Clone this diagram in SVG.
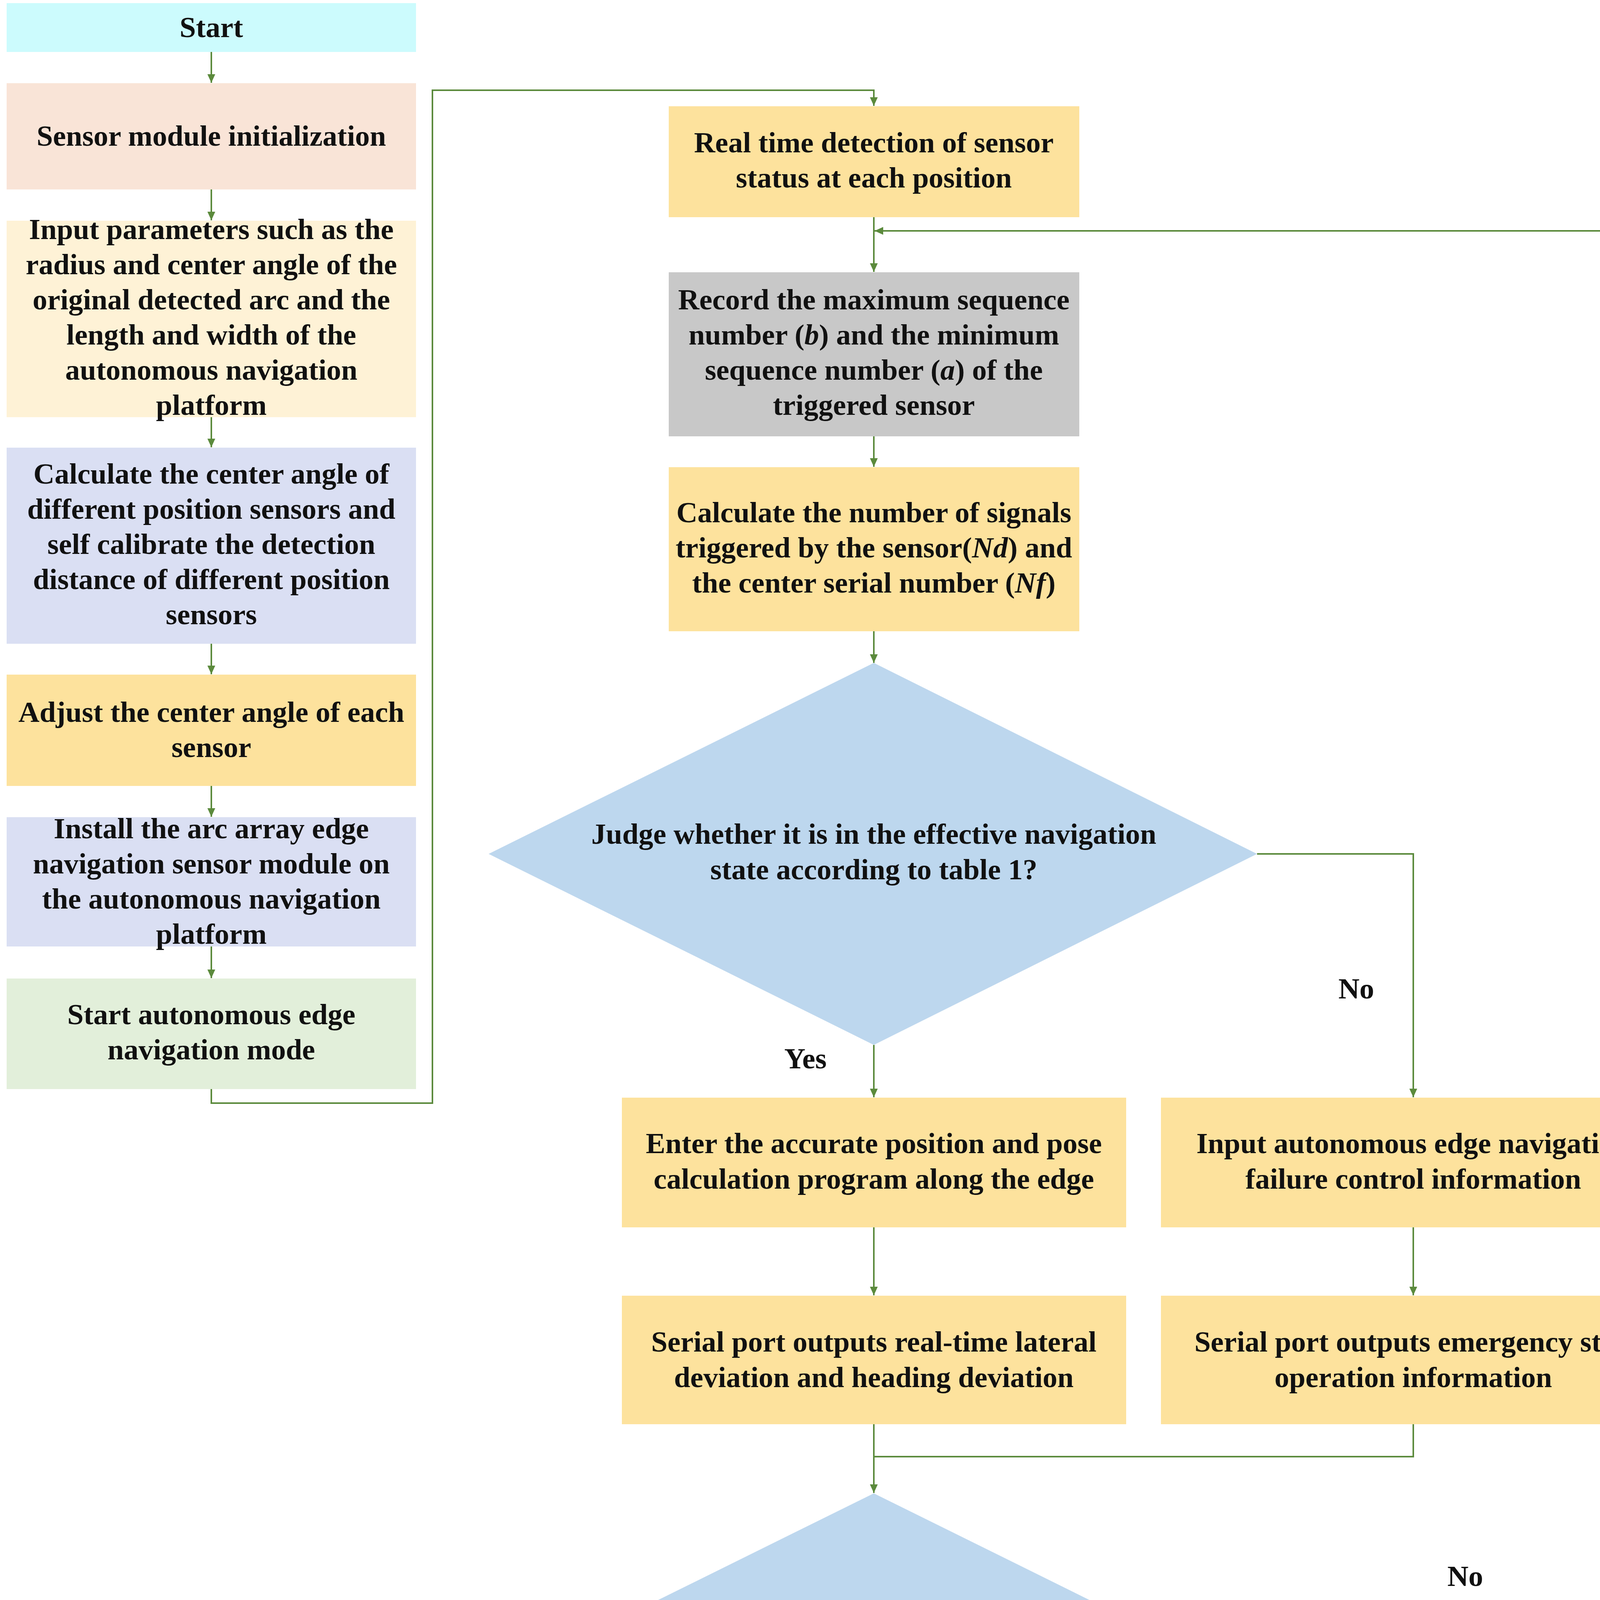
<svg xmlns="http://www.w3.org/2000/svg" width="4317" height="4764" viewBox="0 0 4317 4764">
<style>
.t{font-family:"Liberation Serif","Times New Roman",serif;font-weight:bold;font-size:75px;text-anchor:middle;fill:#111}
.i{font-style:italic}
.c{fill:none;stroke:#5B8A3C;stroke-width:4}
.cyan{fill:#CCFBFD}.peach{fill:#F9E4D7}.cream{fill:#FEF2D6}.lav{fill:#DADFF3}.yel{fill:#FDE29D}.grn{fill:#E2EFDA}.gry{fill:#C8C8C8}.blu{fill:#BDD7EE}
</style>
<defs>
<marker id="ah" markerUnits="userSpaceOnUse" markerWidth="22" markerHeight="20" refX="22" refY="10" orient="auto">
<path d="M0,0 L22,10 L0,20 z" fill="#5B8A3C"/>
</marker>
</defs>
<rect width="4317" height="4764" fill="#ffffff"/>
<g id="connectors">
<line class="c" x1="541" y1="133" x2="541" y2="212" marker-end="url(#ah)"/>
<line class="c" x1="541" y1="485" x2="541" y2="564" marker-end="url(#ah)"/>
<line class="c" x1="541" y1="1068" x2="541" y2="1145" marker-end="url(#ah)"/>
<line class="c" x1="541" y1="1648" x2="541" y2="1726" marker-end="url(#ah)"/>
<line class="c" x1="541" y1="2012" x2="541" y2="2091" marker-end="url(#ah)"/>
<line class="c" x1="541" y1="2423" x2="541" y2="2504" marker-end="url(#ah)"/>
<polyline class="c" points="541,2788 541,2824 1107,2824 1107,231 2237,231 2237,271" marker-end="url(#ah)"/>
<line class="c" x1="2237" y1="556" x2="2237" y2="696" marker-end="url(#ah)"/>
<line class="c" x1="2237" y1="1117" x2="2237" y2="1195" marker-end="url(#ah)"/>
<line class="c" x1="2237" y1="1616" x2="2237" y2="1697" marker-end="url(#ah)"/>
<line class="c" x1="2237" y1="2675" x2="2237" y2="2809" marker-end="url(#ah)"/>
<polyline class="c" points="3218,2186 3618,2186 3618,2809" marker-end="url(#ah)"/>
<line class="c" x1="2237" y1="3142" x2="2237" y2="3316" marker-end="url(#ah)"/>
<line class="c" x1="3618" y1="3142" x2="3618" y2="3316" marker-end="url(#ah)"/>
<line class="c" x1="2237" y1="3646" x2="2237" y2="3822" marker-end="url(#ah)"/>
<polyline class="c" points="3618,3646 3618,3729 2237,3729"/>
<line class="c" x1="2237" y1="4446" x2="2237" y2="4623" marker-end="url(#ah)"/>
<polyline class="c" points="2865,4134 4306,4134 4306,591 2239,591" marker-end="url(#ah)"/>
<text class="t" x="3472" y="2556">No</text>
<text class="t" x="2062" y="2735">Yes</text>
<text class="t" x="3751" y="4060">No</text>
<text class="t" x="2111" y="4522">Yes</text>
</g>
<g id="start">
<rect class="cyan" x="17" y="8" width="1048" height="125"/>
<text class="t" x="541" y="95">Start</text>
</g>
<g id="init">
<rect class="peach" x="17" y="213" width="1048" height="272"/>
<text class="t" x="541" y="373">Sensor module initialization</text>
</g>
<g id="input-params">
<rect class="cream" x="17" y="565" width="1048" height="503"/>
<text class="t" x="541" y="612">Input parameters such as the</text>
<text class="t" x="541" y="702">radius and center angle of the</text>
<text class="t" x="541" y="792">original detected arc and the</text>
<text class="t" x="541" y="882">length and width of the</text>
<text class="t" x="541" y="972">autonomous navigation</text>
<text class="t" x="541" y="1062">platform</text>
</g>
<g id="calc-angle">
<rect class="lav" x="17" y="1146" width="1048" height="502"/>
<text class="t" x="541" y="1238">Calculate the center angle of</text>
<text class="t" x="541" y="1328">different position sensors and</text>
<text class="t" x="541" y="1418">self calibrate the detection</text>
<text class="t" x="541" y="1508">distance of different position</text>
<text class="t" x="541" y="1598">sensors</text>
</g>
<g id="adjust">
<rect class="yel" x="17" y="1727" width="1048" height="285"/>
<text class="t" x="541" y="1848">Adjust the center angle of each</text>
<text class="t" x="541" y="1938">sensor</text>
</g>
<g id="install">
<rect class="lav" x="17" y="2092" width="1048" height="331"/>
<text class="t" x="541" y="2146">Install the arc array edge</text>
<text class="t" x="541" y="2236">navigation sensor module on</text>
<text class="t" x="541" y="2326">the autonomous navigation</text>
<text class="t" x="541" y="2416">platform</text>
</g>
<g id="start-auto">
<rect class="grn" x="17" y="2505" width="1048" height="283"/>
<text class="t" x="541" y="2622">Start autonomous edge</text>
<text class="t" x="541" y="2712">navigation mode</text>
</g>
<g id="realtime">
<rect class="yel" x="1712" y="272" width="1051" height="284"/>
<text class="t" x="2237" y="390">Real time detection of sensor</text>
<text class="t" x="2237" y="480">status at each position</text>
</g>
<g id="record">
<rect class="gry" x="1712" y="697" width="1051" height="420"/>
<text class="t" x="2237" y="792">Record the maximum sequence</text>
<text class="t" x="2237" y="882">number (<tspan class="i">b</tspan>) and the minimum</text>
<text class="t" x="2237" y="972">sequence number (<tspan class="i">a</tspan>) of the</text>
<text class="t" x="2237" y="1062">triggered sensor</text>
</g>
<g id="calc-num">
<rect class="yel" x="1712" y="1196" width="1051" height="420"/>
<text class="t" x="2237" y="1337">Calculate the number of signals</text>
<text class="t" x="2237" y="1427">triggered by the sensor(<tspan class="i">Nd</tspan>) and</text>
<text class="t" x="2237" y="1517">the center serial number (<tspan class="i">Nf</tspan>)</text>
</g>
<g id="judge">
<polygon class="blu" points="2237,1697 3218,2186 2237,2675 1251,2186"/>
<text class="t" x="2237" y="2160">Judge whether it is in the effective navigation</text>
<text class="t" x="2237" y="2251">state according to table 1?</text>
</g>
<g id="enter">
<rect class="yel" x="1592" y="2810" width="1291" height="332"/>
<text class="t" x="2237" y="2952">Enter the accurate position and pose</text>
<text class="t" x="2237" y="3043">calculation program along the edge</text>
</g>
<g id="input-fail">
<rect class="yel" x="2972" y="2810" width="1293" height="332"/>
<text class="t" x="3618" y="2952">Input autonomous edge navigation</text>
<text class="t" x="3618" y="3043">failure control information</text>
</g>
<g id="serial-dev">
<rect class="yel" x="1592" y="3317" width="1291" height="329"/>
<text class="t" x="2237" y="3460">Serial port outputs real-time lateral</text>
<text class="t" x="2237" y="3551">deviation and heading deviation</text>
</g>
<g id="serial-stop">
<rect class="yel" x="2972" y="3317" width="1293" height="329"/>
<text class="t" x="3618" y="3460">Serial port outputs emergency stop</text>
<text class="t" x="3618" y="3551">operation information</text>
</g>
<g id="stop">
<polygon class="blu" points="2237,3823 2866,4134 2237,4446 1608,4134"/>
<text class="t" x="2237" y="4157">Stop signal</text>
</g>
<g id="end">
<rect class="cyan" x="1712" y="4624" width="1051" height="124"/>
<text class="t" x="2237" y="4710">End</text>
</g>
</svg>
